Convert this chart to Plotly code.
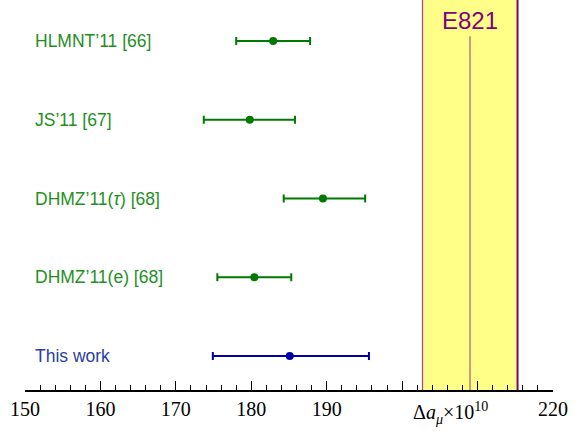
import plotly.graph_objects as go

labels = ["This work", "DHMZ’11(e) [68]", "DHMZ’11(<i>τ</i>) [68]", "JS’11 [67]", "HLMNT’11 [66]"]
values = [185.1, 180.4, 189.5, 179.8, 182.9]
err_lo = [10.2, 4.9, 5.2, 6.1, 4.9]
err_hi = [10.5, 4.9, 5.6, 6.0, 4.9]
colors = ["#0000aa", "#007a00", "#007a00", "#007a00", "#007a00"]
label_colors = ["#2a3f9e", "#1f8f1f", "#1f8f1f", "#1f8f1f", "#1f8f1f"]
rows = [0, 1, 2, 3, 4]

e821_val = 209.0
e821_err = 6.3

tick_vals = [150, 160, 170, 180, 190, 200, 210, 220]
tick_text = ["150", "160", "170", "180", "190", "", "", "220"]

fig = go.Figure()

for i in range(len(values)):
    fig.add_trace(go.Scatter(
        x=[values[i]], y=[rows[i]], mode="markers",
        marker=dict(color=colors[i], size=8),
        error_x=dict(type="data", symmetric=False, array=[err_hi[i]], arrayminus=[err_lo[i]],
                     color=colors[i], thickness=2, width=4),
        showlegend=False, hoverinfo="skip"))
    fig.add_annotation(x=151.1, y=rows[i], xref="x", yref="y", text=labels[i],
                       showarrow=False, xanchor="left", yanchor="middle",
                       font=dict(family="Liberation Sans, Arial", size=17.5, color=label_colors[i]))

# E821 band
fig.add_shape(type="rect", xref="x", yref="paper", x0=e821_val - e821_err, x1=e821_val + e821_err,
              y0=0, y1=1, fillcolor="#ffff88", line=dict(width=0), layer="below")
fig.add_shape(type="line", xref="x", yref="paper", x0=e821_val - e821_err, x1=e821_val - e821_err,
              y0=0, y1=1, line=dict(color="#a0408f", width=1.2), layer="below")
fig.add_shape(type="line", xref="x", yref="paper", x0=e821_val + e821_err, x1=e821_val + e821_err,
              y0=0, y1=1, line=dict(color="#800070", width=2), layer="below")
fig.add_shape(type="line", xref="x", yref="paper", x0=e821_val, x1=e821_val, y0=0, y1=0.907,
              line=dict(color="#8b3a7b", width=1), layer="below")
fig.add_annotation(x=e821_val, y=1.0, xref="x", yref="paper", text="E821", showarrow=False,
                   yanchor="top", yshift=-5,
                   font=dict(family="Liberation Sans, Arial", size=24, color="#800080"))

fig.add_annotation(x=206.4, y=0, xref="x", yref="paper", yanchor="top", yshift=-7,
                   text="Δ<i>a<sub>μ</sub></i>×10<sup>10</sup>", showarrow=False,
                   font=dict(family="Liberation Serif, Times New Roman", size=20, color="black"))

fig.update_xaxes(range=[150, 220], tickvals=tick_vals, ticktext=tick_text, ticks="inside",
                 ticklen=9, tickwidth=1.2, tickcolor="black", showline=True, linecolor="black",
                 linewidth=1.5, showgrid=False, zeroline=False, automargin=False,
                 minor=dict(dtick=2, ticks="inside", ticklen=5, tickcolor="black", tickwidth=1),
                 tickfont=dict(family="Liberation Serif, Times New Roman", size=20, color="black"))
fig.update_yaxes(range=[-0.43, 4.52], visible=False, showgrid=False, zeroline=False, automargin=False)

fig.update_layout(width=574, height=437, margin=dict(l=25, r=21, t=0, b=47),
                  plot_bgcolor="white", paper_bgcolor="white")

fig.write_html("out.html", config={"displayModeBar": False},
               post_script="document.body.style.margin='0';document.body.style.padding='0';")
